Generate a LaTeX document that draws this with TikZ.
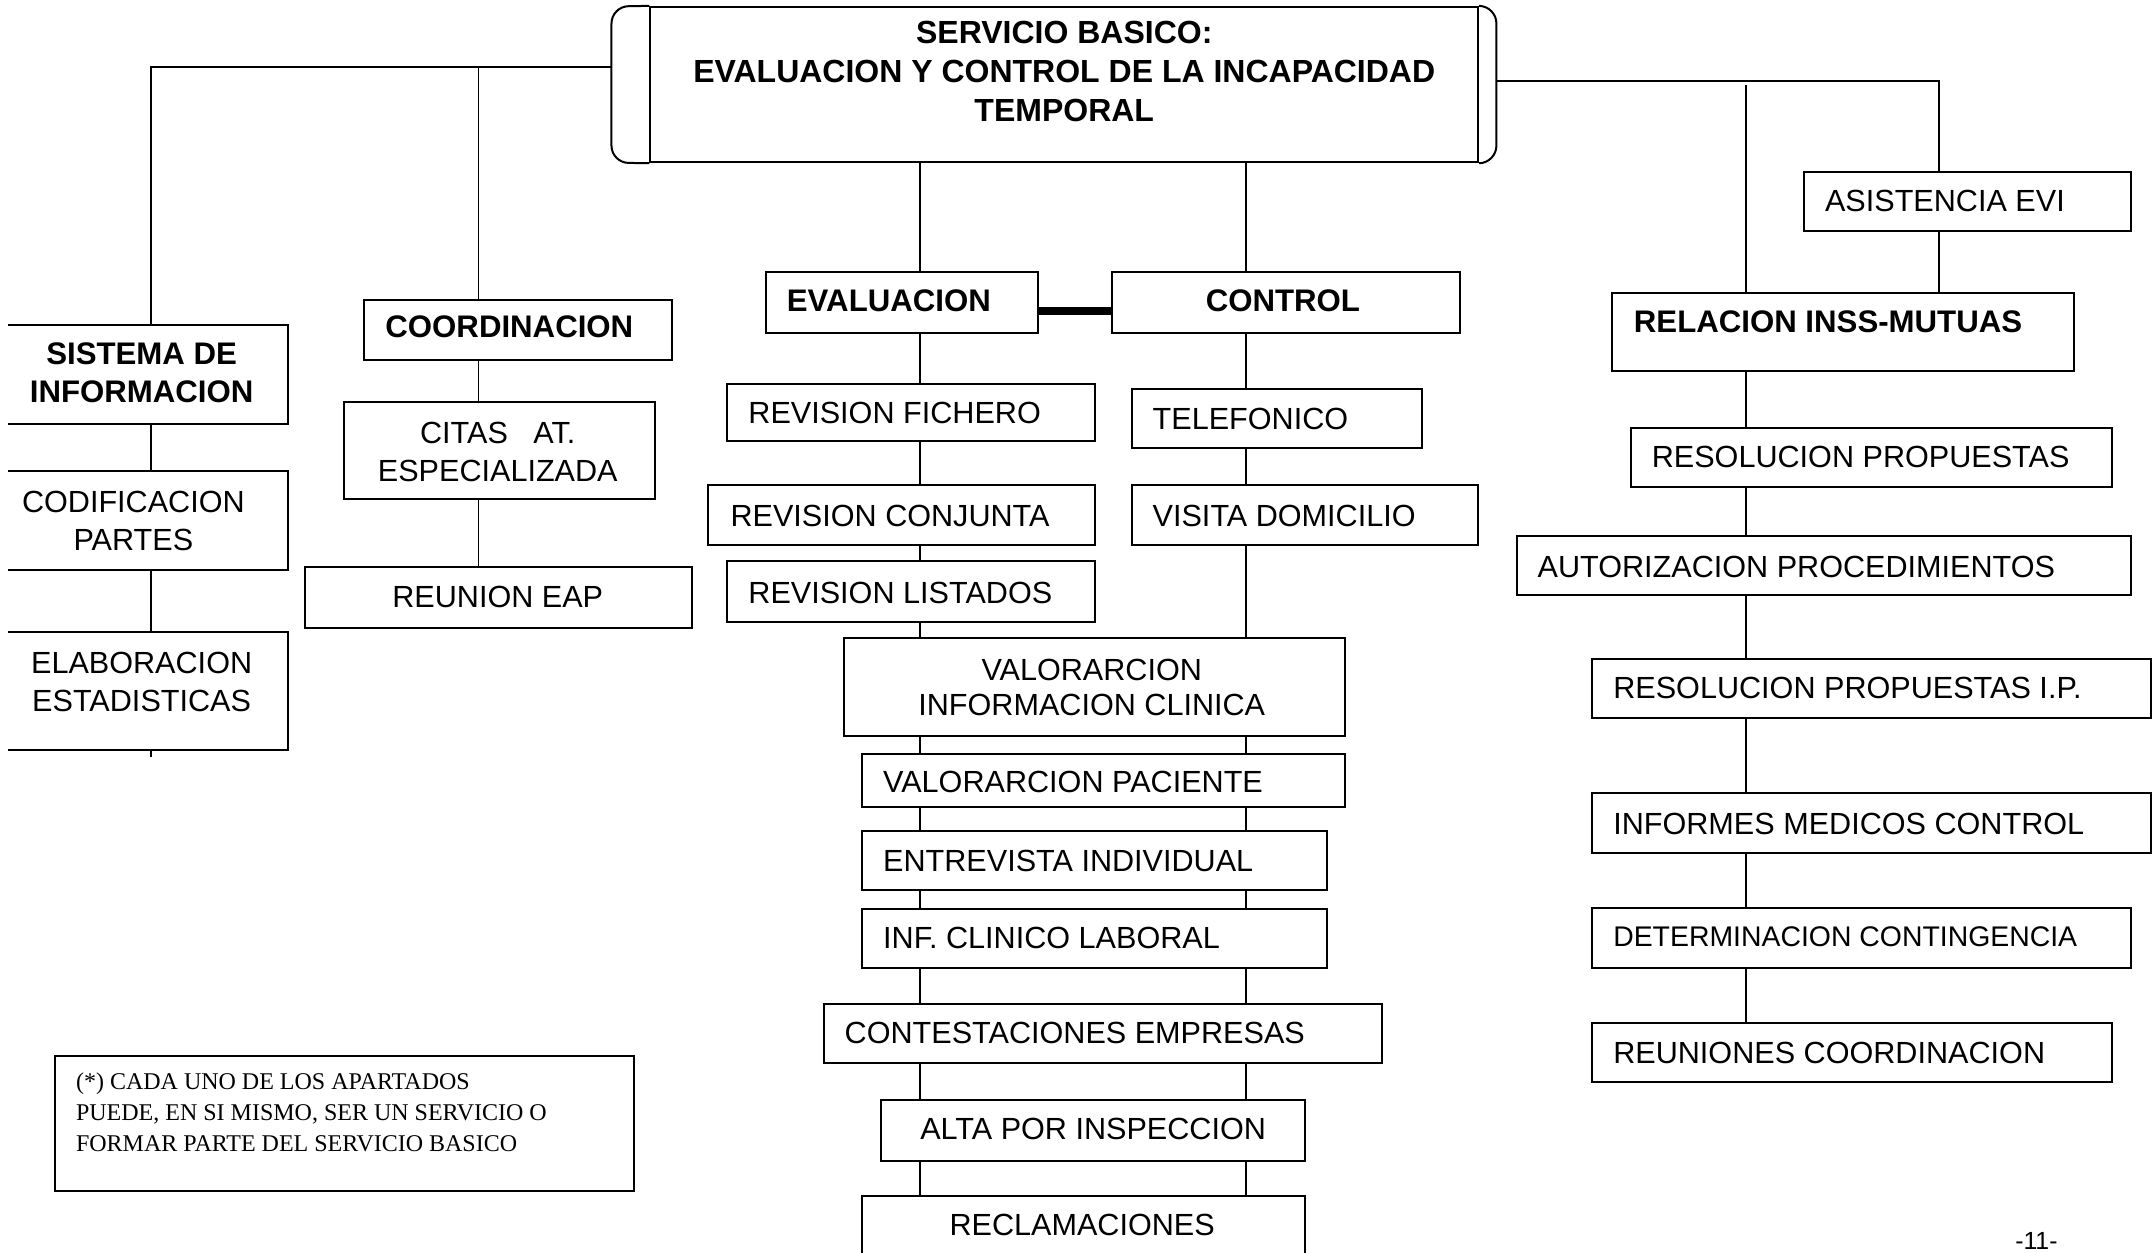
\documentclass[tikz,border=0pt]{standalone}
\usepackage{fontspec}
\setmainfont{Liberation Sans}
\newfontfamily\timesf{Liberation Serif}
\usetikzlibrary{fit,calc}
\newcommand\mybox[5]{\node[bx,fit={(#2,#3) (#4,#5)}] (#1) {};}
\newcommand\openbox[5]{\node[inner sep=0pt,fit={(#2,#3) (#4,#5)}] (#1) {};
  \draw[bxline] (#1.north west) -- (#1.north east) -- (#1.south east) -- (#1.south west);}
\begin{document}
\begin{tikzpicture}[x=0.6875pt,y=-0.6875pt,
  bx/.style={draw, line width=1pt, inner sep=0pt},
  bxline/.style={line width=1pt},
  ln/.style={line width=0.9pt},
  thickln/.style={line width=3.8pt},
  tx/.style={inner sep=0pt, font=\fontsize{15.3}{19}\selectfont},
  txs/.style={inner sep=0pt, font=\fontsize{14.2}{18}\selectfont},
  tb/.style={inner sep=0pt, font=\fontsize{15.6}{19.3}\selectfont\bfseries},
]
\useasboundingbox (0,0) rectangle (1568,911);

% column coordinates
\coordinate (cL) at (110,0);
\coordinate (cC) at (348,0);
\coordinate (cE) at (669,0);
\coordinate (cK) at (906,0);
\coordinate (cR) at (1270,0);
\coordinate (cA) at (1410,0);
\coordinate (hl) at (0,49);
\coordinate (hr) at (0,59);
\coordinate (hr2) at (0,62);
\coordinate (th) at (0,226);

% top box
\mybox{top}{473}{5}{1075}{118}
\node[inner sep=0pt,fit={(445,5) (1088,118)}] (topo) {};
\draw[bxline, rounded corners=8.5pt] (top.north west) -- (topo.north west) -- (topo.south west) -- (top.south west);
\draw[bxline, rounded corners=8.5pt] (top.north east) -- (topo.north east) -- (topo.south east) -- (top.south east);
\node[tb, align=center, font=\fontsize{16}{19.6}\selectfont\bfseries] (topt) at (774,52)
  {SERVICIO BASICO:\\EVALUACION Y CONTROL DE LA INCAPACIDAD\\TEMPORAL};

% left column
\openbox{si}{6}{237}{209}{308}
\node[tb, align=center] (sit) at (103,271) {SISTEMA DE\\INFORMACION};
\openbox{cp}{6}{343}{209}{414}
\node[tx, align=center] (cpt) at (97,379) {CODIFICACION\\PARTES};
\openbox{el}{6}{460}{209}{545}
\node[tx, align=center] (elt) at (103,496) {ELABORACION\\ESTADISTICAS};

% coordinacion column
\mybox{co}{265}{218}{489}{262}
\node[tb, anchor=west] (cot) at (280,238) {COORDINACION};
\mybox{ci}{250}{292}{476}{363}
\node[tx, align=center] (cit) at (362,329) {CITAS\ \ \ AT.\\ESPECIALIZADA};
\mybox{re}{222}{412}{503}{457}
\node[tx] (ret) at (362,434) {REUNION EAP};

% evaluacion / control
\mybox{ev}{557}{198}{755}{242}
\node[tb, anchor=west] (evt) at (572,219) {EVALUACION};
\mybox{ct}{809}{198}{1062}{242}
\node[tb] (ctt) at (933,219) {CONTROL};

\mybox{rf}{529}{279}{796}{321}
\node[tx, anchor=west] (rft) at (544,300) {REVISION FICHERO};
\mybox{rc}{515}{353}{796}{396}
\node[tx, anchor=west] (rct) at (531,375) {REVISION CONJUNTA};
\mybox{rl}{529}{408}{796}{452}
\node[tx, anchor=west] (rlt) at (544,431) {REVISION LISTADOS};

\mybox{te}{823}{283}{1034}{326}
\node[tx, anchor=west] (tet) at (838,305) {TELEFONICO};
\mybox{vd}{823}{353}{1075}{396}
\node[tx, anchor=west] (vdt) at (838,375) {VISITA DOMICILIO};

\mybox{vic}{614}{464}{978}{535}
\node[tx, align=center, font=\fontsize{15.3}{17.9}\selectfont] (vict) at (794,500) {VALORARCION\\INFORMACION CLINICA};
\mybox{vp}{627}{548}{978}{587}
\node[tx, anchor=west] (vpt) at (642,569) {VALORARCION PACIENTE};
\mybox{ei}{627}{604}{965}{647}
\node[tx, anchor=west] (eit) at (642,626) {ENTREVISTA INDIVIDUAL};
\mybox{icl}{627}{661}{965}{704}
\node[tx, anchor=west] (iclt) at (642,682) {INF. CLINICO LABORAL};
\mybox{ce}{599}{730}{1005}{773}
\node[tx, anchor=west] (cet) at (614,751) {CONTESTACIONES EMPRESAS};
\mybox{ap}{641}{800}{949}{844}
\node[tx] (apt) at (795,821) {ALTA POR INSPECCION};
\mybox{rec}{627}{870}{949}{930}
\node[tx] (rect) at (787,891) {RECLAMACIONES};

% right column
\mybox{ae}{1312}{125}{1550}{168}
\node[tx, anchor=west] (aet) at (1327,146) {ASISTENCIA EVI};
\mybox{ri}{1172}{213}{1508}{270}
\node[tb, anchor=west] (rit) at (1188,234) {RELACION INSS-MUTUAS};
\mybox{rp}{1186}{311}{1536}{354}
\node[tx, anchor=west] (rpt) at (1201,332) {RESOLUCION PROPUESTAS};
\mybox{au}{1103}{390}{1550}{433}
\node[tx, anchor=west] (aut) at (1118,412) {AUTORIZACION PROCEDIMIENTOS};
\mybox{rpi}{1158}{479}{1564}{522}
\node[tx, anchor=west] (rpit) at (1173,500) {RESOLUCION PROPUESTAS I.P.};
\mybox{imc}{1158}{577}{1564}{620}
\node[tx, anchor=west] (imct) at (1173,599) {INFORMES MEDICOS CONTROL};
\mybox{dc}{1158}{660}{1550}{704}
\node[txs, anchor=west] (dct) at (1173,681) {DETERMINACION CONTINGENCIA};
\mybox{rco}{1158}{744}{1536}{787}
\node[tx, anchor=west] (rcot) at (1173,766) {REUNIONES COORDINACION};

% note
\mybox{note}{40}{768}{461}{866}
\node[inner sep=0pt, anchor=west, align=left, font=\timesf\fontsize{12}{15.5}\selectfont] (notet) at (55,809)
  {(*) CADA UNO DE LOS APARTADOS\\PUEDE, EN SI MISMO, SER UN SERVICIO O\\FORMAR PARTE DEL SERVICIO BASICO};

% page number
\node[inner sep=0pt, anchor=north, font=\fontsize{12.4}{14}\selectfont] (pg) at (1481,896) {-11-};

% connectors from top box
\draw[ln] (topo.west |- hl) -| (si.north -| cL);
\draw[ln] (cC |- hl) -- (co.north -| cC);
\draw[ln] (top.south -| cE) -- (ev.north -| cE);
\draw[ln] (top.south -| cK) -- (ct.north -| cK);
\draw[ln] (topo.east |- hr) -| (ae.north -| cA);
\draw[ln] (cR |- hr2) -- (ri.north -| cR);
\draw[ln] (ae.south -| cA) -- (ri.north -| cA);

% left
\draw[ln] (si.south -| cL) -- (cp.north -| cL);
\draw[ln] (cp.south -| cL) -- (el.north -| cL);
\draw[ln] (el.south -| cL) -- ++(0,5);
\draw[ln] (co.south -| cC) -- (ci.north -| cC);
\draw[ln] (ci.south -| cC) -- (re.north -| cC);

% evaluacion - control
\draw[thickln] (ev.east |- th) -- (ct.west |- th);
\draw[ln] (ev.south -| cE) -- (rf.north -| cE);
\draw[ln] (rf.south -| cE) -- (rc.north -| cE);
\draw[ln] (rc.south -| cE) -- (rl.north -| cE);
\draw[ln] (rl.south -| cE) -- (vic.north -| cE);
\draw[ln] (ct.south -| cK) -- (te.north -| cK);
\draw[ln] (te.south -| cK) -- (vd.north -| cK);
\draw[ln] (vd.south -| cK) -- (vic.north -| cK);
\foreach \a/\b in {vic/vp, vp/ei, ei/icl, icl/ce, ce/ap, ap/rec}{
  \draw[ln] (\a.south -| cE) -- (\b.north -| cE);
  \draw[ln] (\a.south -| cK) -- (\b.north -| cK);
}

% right
\foreach \a/\b in {ri/rp, rp/au, au/rpi, rpi/imc, imc/dc, dc/rco}{
  \draw[ln] (\a.south -| cR) -- (\b.north -| cR);
}
\end{tikzpicture}
\end{document}
